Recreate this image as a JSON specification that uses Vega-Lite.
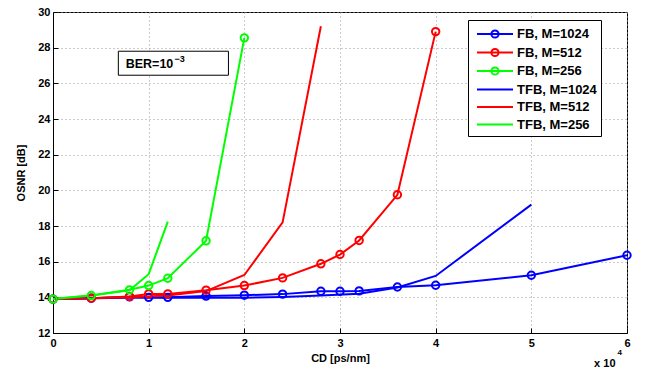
{
"$schema": "https://vega.github.io/schema/vega-lite/v6.json",
"width": 574, "height": 321,
"autosize": {"type": "none"},
"padding": {"left": 53, "top": 12, "right": 20, "bottom": 37},
"background": "white",
"config": {
  "font": "Liberation Sans",
  "view": {"stroke": "black", "strokeWidth": 1},
  "axis": {"labelFont": "Liberation Sans", "labelFontWeight": "bold", "labelFontSize": 11, "labelColor": "black",
           "titleFont": "Liberation Sans", "titleFontWeight": "bold", "titleFontSize": 11, "titleColor": "black",
           "domainColor": "black", "tickColor": "black", "tickSize": -5, "labelPadding": 9, "labelOverlap": false, "labelFlush": false,
           "grid": true, "gridColor": "#999999", "gridDash": [1, 3], "gridWidth": 1}
},
"data": {"values": [
 {"s":"FB, M=1024","k":"FB","cd":0,"osnr":13.9},{"s":"FB, M=1024","k":"FB","cd":0.4,"osnr":13.95},{"s":"FB, M=1024","k":"FB","cd":0.8,"osnr":14.03},{"s":"FB, M=1024","k":"FB","cd":1.0,"osnr":14.0},{"s":"FB, M=1024","k":"FB","cd":1.2,"osnr":14.0},{"s":"FB, M=1024","k":"FB","cd":1.6,"osnr":14.07},{"s":"FB, M=1024","k":"FB","cd":2.0,"osnr":14.12},{"s":"FB, M=1024","k":"FB","cd":2.4,"osnr":14.18},{"s":"FB, M=1024","k":"FB","cd":2.8,"osnr":14.34},{"s":"FB, M=1024","k":"FB","cd":3.0,"osnr":14.34},{"s":"FB, M=1024","k":"FB","cd":3.2,"osnr":14.36},{"s":"FB, M=1024","k":"FB","cd":3.6,"osnr":14.58},{"s":"FB, M=1024","k":"FB","cd":4.0,"osnr":14.68},{"s":"FB, M=1024","k":"FB","cd":5.0,"osnr":15.24},{"s":"FB, M=1024","k":"FB","cd":6.0,"osnr":16.36},
 {"s":"FB, M=512","k":"FB","cd":0,"osnr":13.9},{"s":"FB, M=512","k":"FB","cd":0.4,"osnr":13.95},{"s":"FB, M=512","k":"FB","cd":0.8,"osnr":14.05},{"s":"FB, M=512","k":"FB","cd":1.0,"osnr":14.19},{"s":"FB, M=512","k":"FB","cd":1.2,"osnr":14.19},{"s":"FB, M=512","k":"FB","cd":1.6,"osnr":14.4},{"s":"FB, M=512","k":"FB","cd":2.0,"osnr":14.66},{"s":"FB, M=512","k":"FB","cd":2.4,"osnr":15.09},{"s":"FB, M=512","k":"FB","cd":2.8,"osnr":15.88},{"s":"FB, M=512","k":"FB","cd":3.0,"osnr":16.4},{"s":"FB, M=512","k":"FB","cd":3.2,"osnr":17.19},{"s":"FB, M=512","k":"FB","cd":3.6,"osnr":19.75},{"s":"FB, M=512","k":"FB","cd":4.0,"osnr":28.9},
 {"s":"FB, M=256","k":"FB","cd":0,"osnr":13.9},{"s":"FB, M=256","k":"FB","cd":0.4,"osnr":14.1},{"s":"FB, M=256","k":"FB","cd":0.8,"osnr":14.42},{"s":"FB, M=256","k":"FB","cd":1.0,"osnr":14.66},{"s":"FB, M=256","k":"FB","cd":1.2,"osnr":15.07},{"s":"FB, M=256","k":"FB","cd":1.6,"osnr":17.17},{"s":"FB, M=256","k":"FB","cd":2.0,"osnr":28.55},
 {"s":"TFB, M=1024","k":"TFB","cd":0,"osnr":13.9},{"s":"TFB, M=1024","k":"TFB","cd":0.4,"osnr":13.95},{"s":"TFB, M=1024","k":"TFB","cd":0.8,"osnr":13.97},{"s":"TFB, M=1024","k":"TFB","cd":1.2,"osnr":13.97},{"s":"TFB, M=1024","k":"TFB","cd":1.6,"osnr":13.97},{"s":"TFB, M=1024","k":"TFB","cd":2.0,"osnr":13.98},{"s":"TFB, M=1024","k":"TFB","cd":2.4,"osnr":14.02},{"s":"TFB, M=1024","k":"TFB","cd":2.8,"osnr":14.1},{"s":"TFB, M=1024","k":"TFB","cd":3.2,"osnr":14.2},{"s":"TFB, M=1024","k":"TFB","cd":3.6,"osnr":14.55},{"s":"TFB, M=1024","k":"TFB","cd":4.0,"osnr":15.2},{"s":"TFB, M=1024","k":"TFB","cd":5.0,"osnr":19.2},
 {"s":"TFB, M=512","k":"TFB","cd":0,"osnr":13.9},{"s":"TFB, M=512","k":"TFB","cd":0.4,"osnr":13.95},{"s":"TFB, M=512","k":"TFB","cd":0.8,"osnr":14.0},{"s":"TFB, M=512","k":"TFB","cd":1.2,"osnr":14.1},{"s":"TFB, M=512","k":"TFB","cd":1.6,"osnr":14.35},{"s":"TFB, M=512","k":"TFB","cd":2.0,"osnr":15.25},{"s":"TFB, M=512","k":"TFB","cd":2.4,"osnr":18.2},{"s":"TFB, M=512","k":"TFB","cd":2.8,"osnr":29.2},
 {"s":"TFB, M=256","k":"TFB","cd":0,"osnr":13.9},{"s":"TFB, M=256","k":"TFB","cd":0.4,"osnr":14.1},{"s":"TFB, M=256","k":"TFB","cd":0.8,"osnr":14.4},{"s":"TFB, M=256","k":"TFB","cd":1.0,"osnr":15.3},{"s":"TFB, M=256","k":"TFB","cd":1.2,"osnr":18.25}
]},
"layer": [
 {"mark": {"type": "line", "strokeWidth": 2},
  "encoding": {
   "x": {"field": "cd", "type": "quantitative", "scale": {"domain": [0, 6], "nice": false}, "axis": {"values": [0,1,2,3,4,5,6], "format": "d", "title": "CD [ps/nm]", "titlePadding": 4, "labelOverlap": false}},
   "y": {"field": "osnr", "type": "quantitative", "scale": {"domain": [12, 30], "nice": false, "zero": false}, "axis": {"values": [12,14,16,18,20,22,24,26,28,30], "tickCount": 10, "format": "d", "title": "OSNR [dB]", "titlePadding": 11, "labelPadding": 8, "labelOverlap": false, "labelSeparation": 0}},
   "color": {"field": "s", "type": "nominal",
     "scale": {"domain": ["FB, M=1024","FB, M=512","FB, M=256","TFB, M=1024","TFB, M=512","TFB, M=256"], "range": ["#0000ff","#ff0000","#00ff00","#0000ff","#ff0000","#00ff00"]},
     "legend": {"title": null, "orient": "none", "legendX": 415, "legendY": 8, "padding": 4, "strokeColor": "black", "fillColor": "white",
       "labelFont": "Liberation Sans", "labelFontWeight": "bold", "labelFontSize": 13, "labelColor": "black", "labelLimit": 200,
       "symbolSize": 324, "symbolStrokeWidth": 2, "symbolType": "M-2,0H2", "symbolOffset": 13, "labelOffset": 12, "rowPadding": 0.5,
       "encode": {"symbols": {"update": {
         "shape": {"signal": "indexof(['FB, M=1024','FB, M=512','FB, M=256'], datum.value) >= 0 ? 'M-2,0H2M0.4,0A0.4,0.4,0,1,1,-0.4,0A0.4,0.4,0,1,1,0.4,0' : 'M-2,0H2'"},
         "fill": {"value": "transparent"}}}}}}
  }},
 {"transform": [{"filter": "datum.k == 'FB'"}],
  "mark": {"type": "point", "filled": false, "strokeWidth": 2, "size": 55, "opacity": 1},
  "encoding": {
   "x": {"field": "cd", "type": "quantitative"},
   "y": {"field": "osnr", "type": "quantitative"},
   "color": {"field": "s", "type": "nominal"}
  }},
 {"data": {"values": [{}]},
  "mark": {"type": "rect", "fill": "white", "stroke": "black", "strokeWidth": 1},
  "encoding": {"x": {"datum": 0.683}, "x2": {"datum": 1.834}, "y": {"datum": 26.455}, "y2": {"datum": 27.8}}},
 {"data": {"values": [{}]},
  "mark": {"type": "text", "text": "BER=10", "align": "left", "baseline": "alphabetic", "font": "Liberation Sans", "fontWeight": "bold", "fontSize": 12.5, "color": "black"},
  "encoding": {"x": {"datum": 0.76}, "y": {"datum": 26.87}}},
 {"data": {"values": [{}]},
  "mark": {"type": "text", "text": "−3", "align": "left", "baseline": "alphabetic", "font": "Liberation Sans", "fontWeight": "bold", "fontSize": 9, "color": "black"},
  "encoding": {"x": {"datum": 1.27}, "y": {"datum": 27.22}}},
 {"data": {"values": [{}]},
  "mark": {"type": "text", "text": "x 10", "align": "right", "baseline": "alphabetic", "font": "Liberation Sans", "fontWeight": "bold", "fontSize": 11, "color": "black"},
  "encoding": {"x": {"datum": 5.88}, "y": {"datum": 10.1}}},
 {"data": {"values": [{}]},
  "mark": {"type": "text", "text": "4", "align": "left", "baseline": "alphabetic", "font": "Liberation Sans", "fontWeight": "bold", "fontSize": 8, "color": "black"},
  "encoding": {"x": {"datum": 5.9}, "y": {"datum": 10.76}}}
]
}
